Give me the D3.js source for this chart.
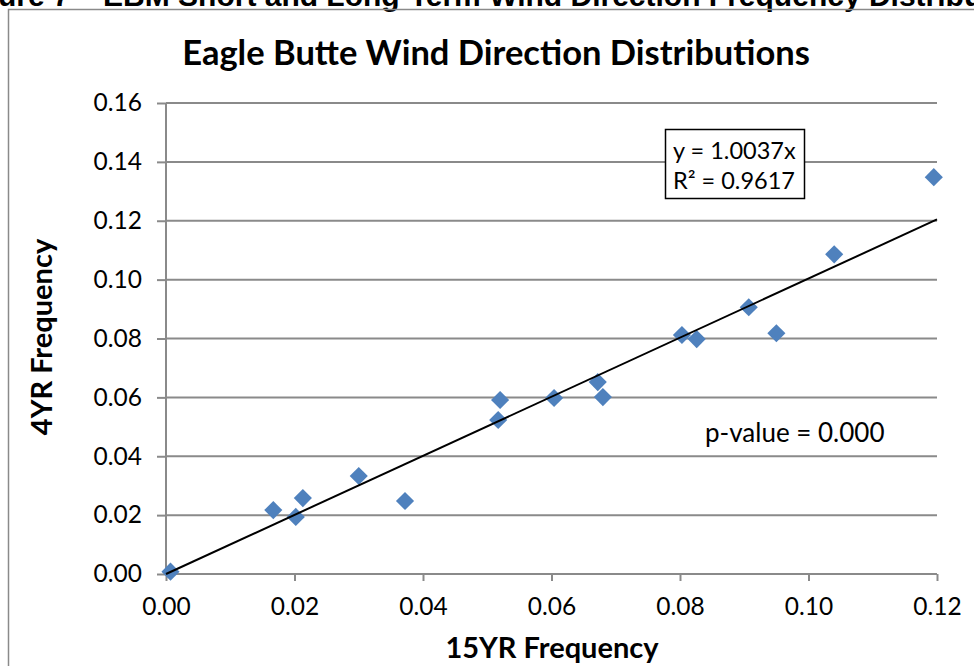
<!DOCTYPE html>
<html>
<head>
<meta charset="utf-8">
<script src="https://cdn.jsdelivr.net/npm/d3@7"></script>
<style>
  html, body { margin: 0; padding: 0; background: #fff; }
  svg { display: block; }
  text { font-family: Lato, "Open Sans", sans-serif; fill: #000; }
</style>
</head>
<body>
<svg id="chart" width="974" height="666"></svg>
<script>
// Wind direction frequencies: 15-year record vs 4-year record
const freq15yr = [0.0007, 0.0167, 0.0202, 0.0213, 0.0300, 0.0372, 0.0520, 0.0517,
                  0.0604, 0.0672, 0.0680, 0.0803, 0.0826, 0.0907, 0.0950, 0.1040, 0.1195];
const freq4yr  = [0.0008, 0.0217, 0.0194, 0.0258, 0.0333, 0.0248, 0.0591, 0.0523,
                  0.0598, 0.0652, 0.0601, 0.0812, 0.0798, 0.0906, 0.0818, 0.1086, 0.1348];
const xTicks = [0, 0.02, 0.04, 0.06, 0.08, 0.10, 0.12];
const yTicks = [0, 0.02, 0.04, 0.06, 0.08, 0.10, 0.12, 0.14, 0.16];
const slope = 1.0037;
const rSquared = "0.9617";
const pValue = "0.000";

const svg = d3.select("#chart");
const gridColor = "#8a8a8a";
const markerColor = "#4f81bd";

// figure caption above the chart frame
const capFont = "'Liberation Sans', Arial, sans-serif";
const caption = svg.append("text")
  .attr("y", 6)
  .style("font-family", capFont)
  .style("font-weight", "bold")
  .style("font-size", "30px")
  .text("Figure 7 – EBM Short and Long-Term Wind Direction Frequency Distributions");
const probe = svg.append("text")
  .style("font-family", capFont)
  .style("font-weight", "bold").style("font-size", "30px").text("Fig");
caption.attr("x", -probe.node().getComputedTextLength() - 2);
probe.remove();

// chart frame
svg.append("rect")
  .attr("x", 8.5).attr("y", 9.5).attr("width", 1000).attr("height", 700)
  .attr("fill", "none").attr("stroke", gridColor).attr("stroke-width", 1.5);

const plot = { left: 166, right: 937, top: 103, bottom: 574 };
const x = d3.scaleLinear().domain([0, 0.12]).range([plot.left, plot.right]);
const y = d3.scaleLinear().domain([0, 0.16]).range([plot.bottom, plot.top]);

// horizontal gridlines
svg.append("g").selectAll("line").data(yTicks.slice(1)).join("line")
  .attr("x1", plot.left).attr("x2", plot.right)
  .attr("y1", d => y(d)).attr("y2", d => y(d))
  .attr("stroke", gridColor).attr("stroke-width", 2);

// axes
const yAxis = svg.append("g").attr("transform", `translate(${plot.left},0)`)
  .call(d3.axisLeft(y).tickValues(yTicks).tickFormat(d3.format(".2f")).tickSize(9).tickPadding(15));
const xAxis = svg.append("g").attr("transform", `translate(0,${plot.bottom})`)
  .call(d3.axisBottom(x).tickValues(xTicks).tickFormat(d3.format(".2f")).tickSize(7).tickPadding(17));
[yAxis, xAxis].forEach(a => {
  a.select(".domain").attr("stroke", gridColor).attr("stroke-width", 2);
  a.selectAll(".tick line").attr("stroke", gridColor).attr("stroke-width", 2);
  a.selectAll(".tick text").style("font-family", "Lato, sans-serif").style("font-size", "24.5px").attr("fill", "#000");
});
yAxis.select(".domain").attr("d", `M0,${plot.top}V${plot.bottom}`);
xAxis.select(".domain").attr("d", `M${plot.left},0H${plot.right}`);

// diamond markers
const pts = freq15yr.map((v, i) => ({ x: v, y: freq4yr[i] }));
svg.append("g").selectAll("path").data(pts).join("path")
  .attr("d", d3.symbol(d3.symbolDiamond2, 210))
  .attr("transform", d => `translate(${x(d.x)},${y(d.y)})`)
  .attr("fill", markerColor);

// linear trend through the origin
svg.append("line")
  .attr("x1", x(0)).attr("y1", y(0))
  .attr("x2", x(0.12)).attr("y2", y(0.12 * slope))
  .attr("stroke", "#000").attr("stroke-width", 2);

// trend equation box
svg.append("rect")
  .attr("x", 665.5).attr("y", 129.5).attr("width", 139).attr("height", 69)
  .attr("fill", "#fff").attr("stroke", "#000").attr("stroke-width", 1.5);
svg.append("text").attr("x", 673).attr("y", 159).style("font-size", "23.5px")
  .text(`y = ${slope}x`);
svg.append("text").attr("x", 673).attr("y", 189).style("font-size", "23.5px")
  .text(`R² = ${rSquared}`);

svg.append("text").attr("x", 705).attr("y", 442).style("font-size", "26px")
  .text(`p-value = ${pValue}`);

// title and axis titles
svg.append("text").attr("x", 496).attr("y", 65).attr("text-anchor", "middle")
  .style("font-size", "34.5px").style("font-weight", "bold")
  .text("Eagle Butte Wind Direction Distributions");
svg.append("text").attr("x", 552).attr("y", 658).attr("text-anchor", "middle")
  .style("font-size", "29px").style("font-weight", "bold")
  .text("15YR Frequency");
svg.append("text").attr("transform", "translate(52,337) rotate(-90)").attr("text-anchor", "middle")
  .style("font-size", "29px").style("font-weight", "bold")
  .text("4YR Frequency");
</script>
</body>
</html>
